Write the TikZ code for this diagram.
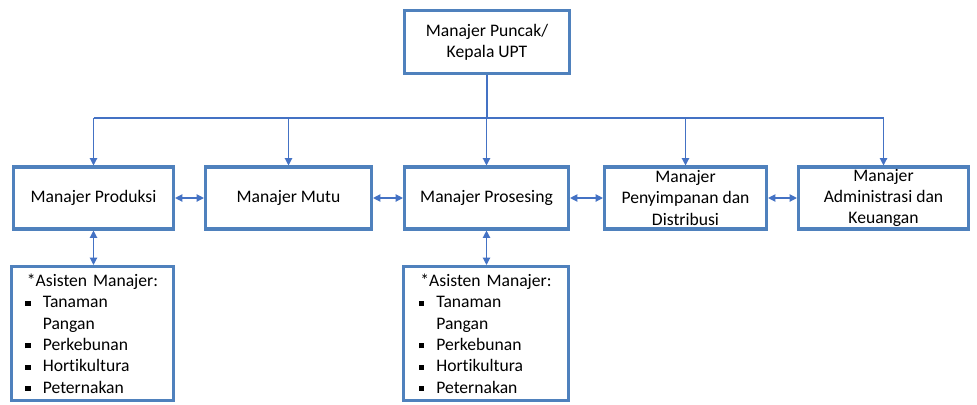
\documentclass[tikz,border=0pt]{standalone}
\usepackage{fontspec}
\setmainfont[Ligatures=NoCommon]{Carlito}
\usetikzlibrary{arrows.meta}
\definecolor{boxblue}{RGB}{79,129,189}
\definecolor{lineblue}{RGB}{68,114,196}
\newcommand{\blt}{\makebox[15pt][l]{\hspace{2pt}\rule[0.25ex]{3.8pt}{3.8pt}}}

\begin{document}
\begin{tikzpicture}[
  x=0.75pt, y=-0.75pt,
  box/.style={draw=boxblue, line width=2.3pt, fill=white, align=center, inner sep=0pt,
    font=\fontsize{13.2}{16}\selectfont},
  mgr/.style={box, minimum height=46.5pt},
  asbox/.style={box, align=left, text width=104.5pt, inner xsep=8.5pt, minimum height=100.5pt},
  conn/.style={draw=lineblue, line width=0.9pt},
  down/.style={conn, -{Triangle[length=5.5pt,width=5.5pt]}},
  both/.style={conn, {Triangle[length=5.5pt,width=5.5pt]}-{Triangle[length=5.5pt,width=5.5pt]}}
]
\useasboundingbox (0,0) rectangle (977,404);

% --- top ---
\node[box, minimum width=123.75pt, minimum height=47.25pt] (top) at (487,42) {Manajer Puncak/\\Kepala UPT};

% --- managers ---
\node[mgr, minimum width=120pt]   (prod) at (93.5,198)  {Manajer Produksi};
\node[mgr, minimum width=124.5pt] (mutu) at (288.5,198) {Manajer Mutu};
\node[mgr, minimum width=123pt]   (pros) at (486.5,198) {Manajer Prosesing};
\node[mgr, minimum width=121.5pt] (peny) at (685.5,198) {Manajer\\Penyimpanan dan\\Distribusi};
\node[mgr, minimum width=127.5pt] (adm)  at (883.5,198) {Manajer\\Administrasi dan\\Keuangan};

% --- asisten ---
\node[asbox, minimum width=121.5pt] (asprod) at (92.5,333.5) {\makebox[104.5pt]{*Asisten Manajer:}\\
  \blt Tanaman\\ \hspace*{15pt}Pangan\\ \blt Perkebunan\\ \blt Hortikultura\\ \blt Peternakan};
\node[asbox, minimum width=123.75pt] (aspros) at (486,333.5) {\makebox[104.5pt]{*Asisten Manajer:}\\
  \blt Tanaman\\ \hspace*{15pt}Pangan\\ \blt Perkebunan\\ \blt Hortikultura\\ \blt Peternakan};

% --- lines from the top ---
\coordinate (bus) at (487,118);
\draw[conn] (top.south) -- (bus);
\draw[conn] (prod.north |- bus) -- (adm.north |- bus);
\foreach \n in {prod,mutu,pros,peny,adm}
  \draw[down] (\n.north |- bus) -- (\n.north);

% --- links in the row ---
\draw[both] (prod) -- (mutu);
\draw[both] (mutu) -- (pros);
\draw[both] (pros) -- (peny);
\draw[both] (peny) -- (adm);

% --- links to asisten ---
\draw[both] (prod.south) -- (prod.south |- asprod.north);
\draw[both] (pros.south) -- (pros.south |- aspros.north);

\end{tikzpicture}
\end{document}
